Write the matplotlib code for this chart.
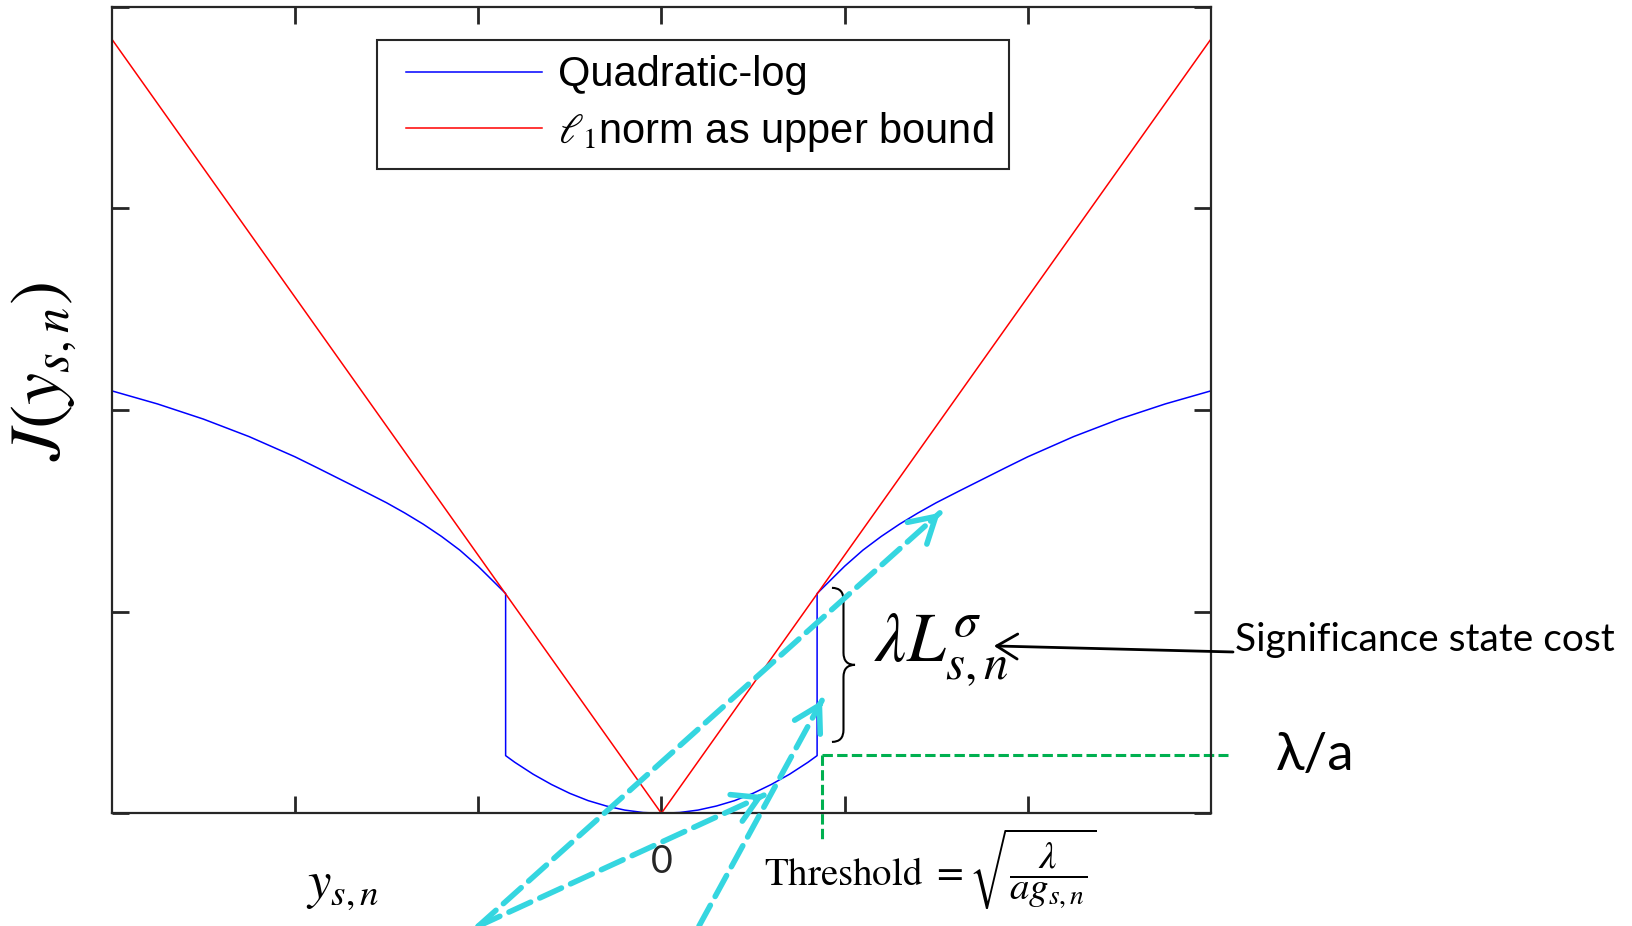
import matplotlib
matplotlib.use('Agg')
import matplotlib.pyplot as plt
from matplotlib.path import Path
from matplotlib.patches import PathPatch
from matplotlib.lines import Line2D
from matplotlib.legend_handler import HandlerLine2D

plt.rcParams['mathtext.fontset'] = 'stix'

# quadratic-log cost, outer (log) branch for y >= threshold, mirrored for y < 0
x_out = [0.85, 0.9, 0.95, 1.0, 1.1, 1.2, 1.3, 1.4, 1.5, 1.625, 1.75, 1.875,
         2.0, 2.25, 2.5, 2.75, 3.0]
j_out = [1.09, 1.135, 1.18, 1.225, 1.305, 1.373, 1.434, 1.489, 1.54, 1.598, 1.655,
         1.712, 1.768, 1.868, 1.955, 2.03, 2.095]
# inner quadratic branch
x_in = [0.0, 0.1, 0.2, 0.3, 0.4, 0.5, 0.6, 0.7, 0.8, 0.85]
j_in = [0.0, 0.004, 0.016, 0.036, 0.063, 0.099, 0.143, 0.194, 0.253, 0.286]
# l1 norm upper bound
x_l1 = [-3.0, 0.0, 3.0]
j_l1 = [3.84, 0.0, 3.84]

xticks = [-2, -1, 0, 1, 2]
xticklabels = ['', '', '0', '', '']
yticks = [0, 1, 2, 3, 4]

xb = [-v for v in x_out[::-1]] + [-v for v in x_in[::-1]] + x_in[1:] + x_out
jb = j_out[::-1] + j_in[::-1] + j_in[1:] + j_out

fig = plt.figure(figsize=(16.33, 9.26), dpi=100)
ax = fig.add_axes([0.0684, 0.1217, 0.6732, 0.8711])

ax.plot(xb, jb, color='#0000ff', lw=1.1, label='Quadratic-log',
        solid_joinstyle='round')
ax.plot(x_l1, j_l1, color='#ff0000', lw=1.1, label=r'$\ell_1$norm as upper bound')

ax.set_xlim(-3, 3)
ax.set_ylim(0, 4)
ax.set_xticks(xticks)
ax.set_xticklabels(xticklabels, fontfamily='Lato')
ax.set_yticks(yticks)
ax.set_yticklabels([])
ax.tick_params(direction='in', length=12, width=2, top=True, right=True,
               colors='#262626', labelsize=27, pad=22)
for s in ax.spines.values():
    s.set_color('#262626')
    s.set_linewidth(1.6)

leg = ax.legend(loc='upper left', bbox_to_anchor=(377 / 1633, 1 - 40 / 926),
                bbox_transform=fig.transFigure, borderaxespad=0,
                prop={'family': 'Liberation Sans', 'size': 30},
                handlelength=3.59, handletextpad=0.38, borderpad=0.37,
                labelspacing=0.34, fancybox=False, framealpha=1,
                handler_map={Line2D: HandlerLine2D(xpad=0.33)})
leg.get_frame().set_edgecolor('#262626')
leg.get_frame().set_linewidth(1.5)

# axis labels
ax.text(-3.37, 2.19, r'$J(y_{s,n})$', rotation=90, ha='center', va='center',
        fontsize=52, clip_on=False)
ax.text(-1.74, -0.36, r'$y_{s,n}$', ha='center', va='center', fontsize=38,
        clip_on=False)

# green threshold guides
green = '#00b050'
ax.plot([0.877, 3.09], [0.289, 0.289], color=green, lw=2.2,
        dashes=(3.4, 1.4), clip_on=False)
ax.plot([0.877, 0.877], [0.289, -0.125], color=green, lw=2.2,
        dashes=(3.4, 1.4), clip_on=False)
ax.text(3.57, 0.289, r'λ/a', ha='center', va='center', fontsize=38,
        family=['Lato', 'Noto Sans'], clip_on=False)
ax.text(0.56, -0.28, r'Threshold $= \sqrt{\dfrac{\lambda}{a g_{s,n}}}$',
        ha='left', va='center', fontsize=28, family='STIXGeneral',
        clip_on=False)

# brace for the significance cost
x0, x1, yt, yb, ym = 0.931, 1.057, 1.118, 0.354, 0.736
xm = (x0 + x1) / 2
q = 0.06
verts = [(x0, yt), (xm, yt), (xm, yt - q), (xm, ym + q), (xm, ym), (x1, ym),
         (x1, ym), (xm, ym), (xm, ym - q), (xm, yb + q), (xm, yb), (x0, yb)]
codes = [Path.MOVETO, Path.CURVE3, Path.CURVE3, Path.LINETO, Path.CURVE3, Path.CURVE3,
         Path.MOVETO, Path.CURVE3, Path.CURVE3, Path.LINETO, Path.CURVE3, Path.CURVE3]
ax.add_patch(PathPatch(Path(verts, codes), fill=False, lw=1.5, color='black',
                       clip_on=False))
ax.text(1.526, 0.81, r'$\lambda L^{\sigma}_{s,n}$', ha='center', va='center',
        fontsize=50, clip_on=False)

ax.annotate('', xy=(1.815, 0.83), xytext=(3.12, 0.80), annotation_clip=False,
            arrowprops=dict(arrowstyle='->,head_length=0.5,head_width=0.3',
                            lw=2, color='black', mutation_scale=30,
                            shrinkA=0, shrinkB=0))
ax.text(3.13, 0.858, 'Significance state cost', ha='left', va='center',
        fontsize=28, family='Lato', clip_on=False)

# cyan dashed arrows
cyan = '#35d6e0'
arrows = [((-1.0, -0.56), (1.52, 1.49)),
          ((-1.0, -0.56), (0.56, 0.09)),
          ((0.205, -0.56), (0.877, 0.56))]
for (sx, sy), (ex, ey) in arrows:
    ax.annotate('', xy=(ex, ey), xytext=(sx, sy), annotation_clip=False,
                arrowprops=dict(arrowstyle='-', lw=4.0, color=cyan,
                                linestyle=(0, (4.3, 1.8)), shrinkA=0, shrinkB=0))
    bx = ex - (ex - sx) * 0.02
    by = ey - (ey - sy) * 0.02
    ax.annotate('', xy=(ex, ey), xytext=(bx, by), annotation_clip=False,
                arrowprops=dict(arrowstyle='->,head_length=0.6,head_width=0.35',
                                lw=4.0, color=cyan, mutation_scale=30,
                                shrinkA=0, shrinkB=0, capstyle='round'))

fig.savefig('out.png', dpi=100)
